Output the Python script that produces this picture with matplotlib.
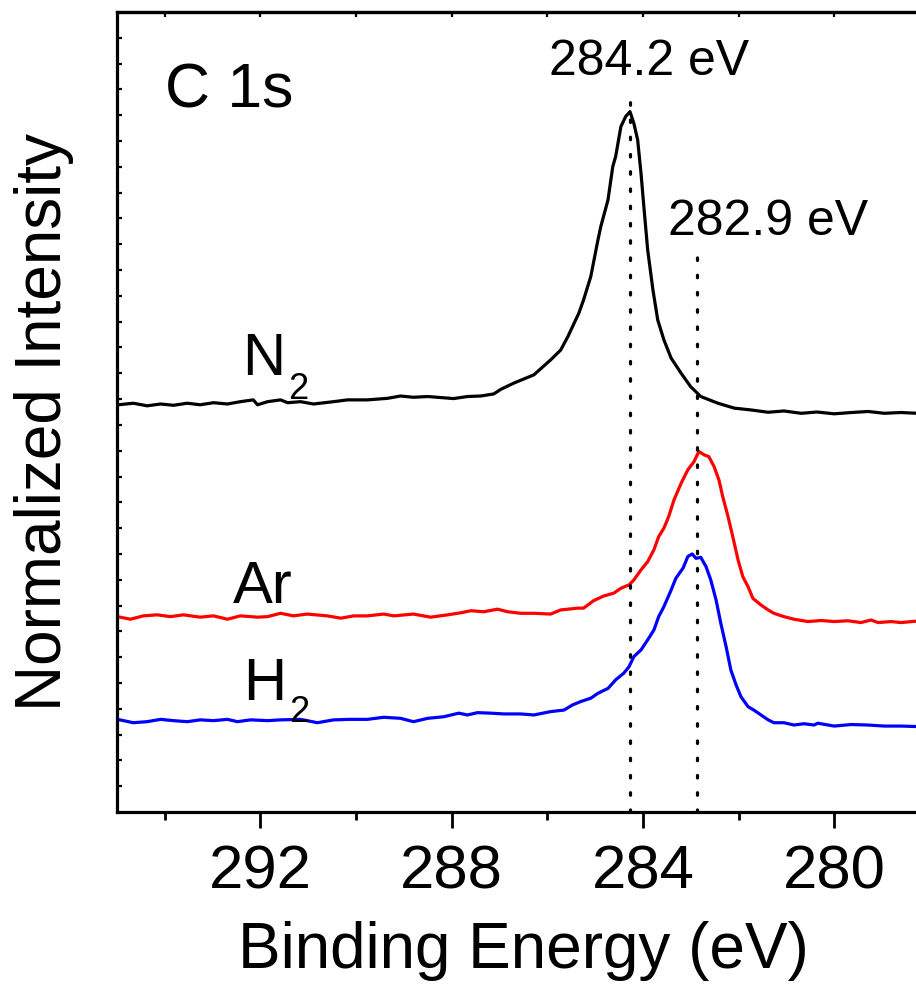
import matplotlib
matplotlib.use("Agg")
import matplotlib.pyplot as plt
import numpy as np

plt.rcParams["font.family"] = ["Liberation Sans", "DejaVu Sans"]

# C 1s spectra, binding energy (eV) vs normalized intensity (offset, arb. units)
n2_energy = [294.97, 294.66, 294.37, 294.09, 293.82, 293.53, 293.26, 292.98, 292.69, 292.42,
             292.15, 292.06, 291.85, 291.58, 291.43, 291.16, 290.89, 290.47, 290.18, 289.76,
             289.34, 289.07, 288.80, 288.50, 288.23, 287.96, 287.67, 287.39, 287.12, 286.97,
             286.70, 286.28, 285.93, 285.72, 285.57, 285.34, 285.24, 285.09, 284.94, 284.88,
             284.73, 284.63, 284.57, 284.46, 284.36, 284.27, 284.19, 284.11, 284.04, 283.98,
             283.90, 283.79, 283.69, 283.56, 283.41, 283.20, 283.00, 282.79, 282.43, 282.09,
             281.74, 281.38, 281.05, 280.69, 280.36, 280.00, 279.64, 279.29, 278.95, 278.60,
             278.26, 278.01]
n2_intensity = [15.78, 15.84, 15.74, 15.81, 15.76, 15.84, 15.78, 15.86, 15.81, 15.90,
                15.97, 15.78, 15.90, 15.97, 15.86, 15.90, 15.81, 15.90, 15.97, 15.97,
                16.03, 16.12, 16.07, 16.10, 16.06, 16.02, 16.10, 16.12, 16.20, 16.38,
                16.62, 16.94, 17.52, 17.90, 18.42, 19.33, 19.85, 20.75, 22.17, 22.69,
                23.72, 25.01, 25.40, 26.56, 26.95, 27.14, 26.69, 26.05, 24.76, 23.46,
                21.78, 20.23, 19.07, 18.29, 17.59, 17.00, 16.48, 16.10, 15.84, 15.65,
                15.58, 15.49, 15.54, 15.45, 15.50, 15.43, 15.48, 15.52, 15.45, 15.48,
                15.45, 15.47]

ar_energy = [294.99, 294.72, 294.45, 294.16, 293.88, 293.61, 293.26, 292.98, 292.69, 292.42,
             292.06, 291.85, 291.58, 291.31, 291.02, 290.60, 290.32, 290.05, 289.76, 289.42,
             289.21, 288.80, 288.44, 288.08, 287.81, 287.60, 287.33, 287.04, 286.83, 286.56,
             286.28, 285.93, 285.72, 285.36, 285.24, 285.03, 284.82, 284.61, 284.46, 284.29,
             284.19, 284.04, 283.90, 283.77, 283.67, 283.56, 283.46, 283.35, 283.20, 283.06,
             282.93, 282.83, 282.72, 282.62, 282.51, 282.41, 282.33, 282.22, 282.12, 282.01,
             281.91, 281.80, 281.70, 281.53, 281.38, 281.26, 281.05, 280.84, 280.55, 280.27,
             280.00, 279.71, 279.44, 279.23, 279.08, 278.81, 278.60, 278.26, 278.01]
ar_intensity = [7.57, 7.47, 7.60, 7.64, 7.57, 7.64, 7.55, 7.60, 7.47, 7.60,
                7.55, 7.57, 7.70, 7.60, 7.67, 7.60, 7.51, 7.60, 7.60, 7.67,
                7.60, 7.67, 7.55, 7.64, 7.72, 7.80, 7.76, 7.86, 7.76, 7.70,
                7.70, 7.67, 7.83, 7.90, 7.90, 8.19, 8.37, 8.48, 8.67, 8.80,
                8.99, 9.38, 9.70, 10.16, 10.67, 11.00, 11.45, 12.09, 12.74, 13.26,
                13.58, 13.97, 13.84, 13.77, 13.38, 12.87, 12.22, 11.45, 10.67, 9.77,
                9.12, 8.73, 8.28, 8.02, 7.83, 7.70, 7.57, 7.47, 7.38, 7.42,
                7.38, 7.41, 7.34, 7.44, 7.34, 7.38, 7.34, 7.40, 7.38]

h2_energy = [294.99, 294.66, 294.37, 294.09, 293.82, 293.53, 293.26, 292.98, 292.69, 292.48,
             292.21, 291.85, 291.58, 291.16, 290.81, 290.47, 290.12, 289.76, 289.42, 289.07,
             288.80, 288.50, 288.17, 287.85, 287.67, 287.46, 287.18, 286.91, 286.56, 286.28,
             285.93, 285.65, 285.47, 285.30, 285.09, 284.94, 284.73, 284.57, 284.40, 284.29,
             284.19, 284.04, 283.90, 283.77, 283.67, 283.56, 283.41, 283.31, 283.16, 283.06,
             282.97, 282.89, 282.79, 282.68, 282.58, 282.47, 282.37, 282.26, 282.16, 282.05,
             281.95, 281.80, 281.68, 281.53, 281.38, 281.26, 281.05, 280.84, 280.63, 280.42,
             280.34, 280.00, 279.64, 279.29, 278.95, 278.60, 278.26, 278.01]
h2_intensity = [3.59, 3.46, 3.50, 3.59, 3.54, 3.50, 3.57, 3.54, 3.59, 3.50,
                3.57, 3.54, 3.57, 3.59, 3.46, 3.57, 3.59, 3.59, 3.67, 3.63,
                3.50, 3.63, 3.69, 3.83, 3.76, 3.85, 3.83, 3.80, 3.80, 3.76,
                3.89, 3.95, 4.15, 4.28, 4.41, 4.60, 4.79, 5.12, 5.38, 5.63,
                6.02, 6.28, 6.67, 7.05, 7.57, 7.96, 8.60, 9.06, 9.45, 9.90,
                10.00, 9.83, 9.87, 9.51, 8.99, 8.22, 7.31, 6.41, 5.50, 4.92,
                4.47, 4.08, 3.95, 3.76, 3.57, 3.46, 3.46, 3.37, 3.42, 3.37,
                3.44, 3.33, 3.39, 3.37, 3.33, 3.33, 3.31, 3.33]

# peak marker lines: position, top of line
peak_pos = [284.27, 282.86]
peak_top = [27.79, 21.71]
peak_labels = ["284.2 eV", "282.9 eV"]

fig = plt.figure(figsize=(9.16, 9.84), dpi=100)
ax = fig.add_axes([117 / 916, 1 - 812 / 984, 812.75 / 916, 800 / 984])

ax.plot(n2_energy, n2_intensity, color="black", lw=2.3)
ax.plot(ar_energy, ar_intensity, color="#ff0000", lw=2.3)
ax.plot(h2_energy, h2_intensity, color="#0000ff", lw=2.3)

for pos, top in zip(peak_pos, peak_top):
    ax.plot([pos, pos], [0, top], color="black", lw=2.3, linestyle=(0, (0.8, 4.6)),
            dash_capstyle="round")

ax.set_xlim(295, 278)
ax.set_ylim(0, 31)

# labels
ax.text(293.99, 27.29, "C 1s", fontsize=45, ha="left", va="baseline")
ax.text(283.87, 28.57, peak_labels[0], fontsize=36, ha="center", va="baseline")
ax.text(281.38, 22.36, peak_labels[1], fontsize=36, ha="center", va="baseline")
ax.text(292.38, 16.94, "N", fontsize=43, ha="left", va="baseline")
ax.text(291.43, 16.01, "2", fontsize=26, ha="left", va="baseline")
ax.text(292.57, 8.10, "Ar", fontsize=43, ha="left", va="baseline")
ax.text(292.36, 4.34, "H", fontsize=43, ha="left", va="baseline")
ax.text(291.41, 3.49, "2", fontsize=26, ha="left", va="baseline")

# axes styling
for side in ["left", "bottom", "top"]:
    ax.spines[side].set_linewidth(2.3)
ax.spines["right"].set_visible(False)

ax.set_xticks([292, 288, 284, 280])
ax.set_xticks([294, 290, 286, 282], minor=True)
ax.tick_params(axis="x", which="major", direction="out", length=11.5, width=2.0,
               labelsize=44.5, pad=12)
ax.tick_params(axis="x", which="minor", direction="out", length=6, width=2.0)

ax.set_yticks(np.arange(1, 31))
ax.tick_params(axis="y", which="major", direction="in", length=3.5, width=1.6,
               labelleft=False)

top = ax.secondary_xaxis("top")
top.set_xticks([294, 292, 290, 288, 286, 284, 282, 280])
top.tick_params(direction="in", length=3.5, width=1.6, labeltop=False)
top.spines["top"].set_linewidth(2.3)

ax.set_xlabel("Binding Energy (eV)", fontsize=46, labelpad=14)
fig.text(44.5 / 916, 1 - 422 / 984, "Normalized Intensity", fontsize=46,
         rotation=90, ha="center", va="center")

fig.savefig("out.png", dpi=100)
